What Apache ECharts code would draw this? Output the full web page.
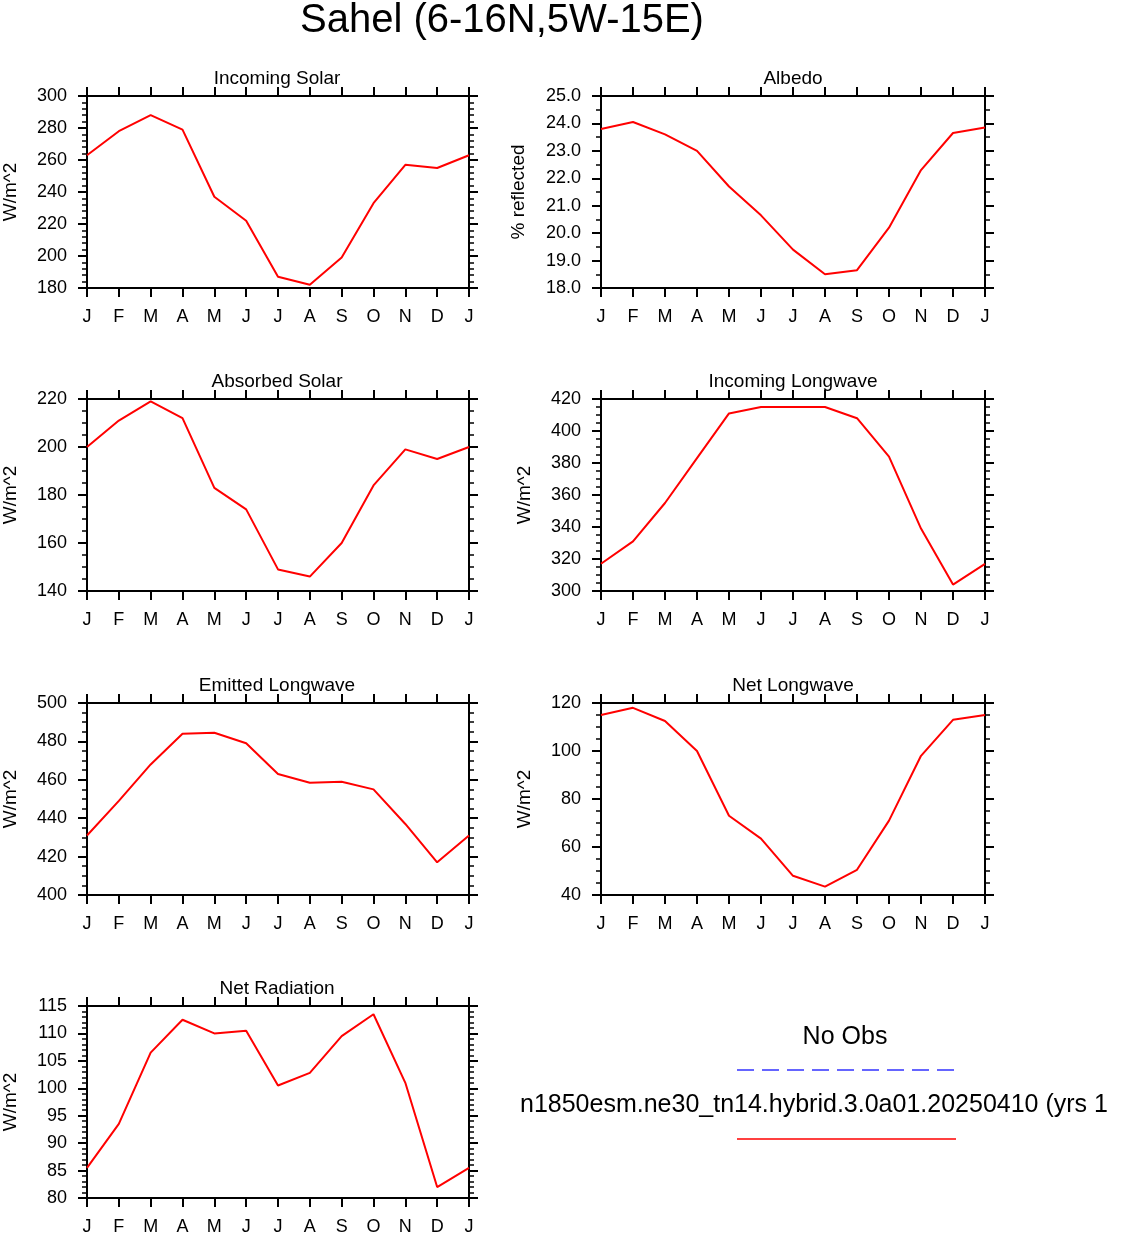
<!DOCTYPE html>
<html><head><meta charset="utf-8">
<script src="https://cdn.jsdelivr.net/npm/echarts@6/dist/echarts.min.js"></script>
<style>html,body{margin:0;padding:0;background:#fff}#c{width:1134px;height:1236px}</style>
</head><body><div id="c"></div>
<script>
const months = ['J','F','M','A','M','J','J','A','S','O','N','D','J'];
const incomingSolar = [263,278,288,279,237,222,187,182,199,233,257,255,263];
const albedo = [23.8,24.05,23.6,23.0,21.7,20.65,19.4,18.5,18.65,20.2,22.3,23.65,23.85];
const absorbedSolar = [200,211,219,212,183,174,149,146,160,184,199,195,200];
const incomingLW = [317,331,355,383,411,415,415,415,408,384,339,304,317];
const emittedLW = [431,449,468,484,484.5,479,463,458.5,459,455,437,417,431];
const netLW = [115,118,112.5,100,73,63.5,48,43.5,50.5,71,98,113,115];
const netRad = [85.5,93.5,106.5,112.5,110,110.5,100.5,102.8,109.5,113.5,101,82,85.5];

const panels = [
 {t:'Incoming Solar', d:incomingSolar, min:180, max:300, iv:20, ms:5, yl:'W/m^2', dec:0, l:85, top:96},
 {t:'Albedo', d:albedo, min:18, max:25, iv:1, ms:2, yl:'% reflected', dec:1, l:601, top:96},
 {t:'Absorbed Solar', d:absorbedSolar, min:140, max:220, iv:20, ms:4, yl:'W/m^2', dec:0, l:85, top:399},
 {t:'Incoming Longwave', d:incomingLW, min:300, max:420, iv:20, ms:4, yl:'W/m^2', dec:0, l:601, top:399},
 {t:'Emitted Longwave', d:emittedLW, min:400, max:500, iv:20, ms:4, yl:'W/m^2', dec:0, l:85, top:703},
 {t:'Net Longwave', d:netLW, min:40, max:120, iv:20, ms:4, yl:'W/m^2', dec:0, l:601, top:703},
 {t:'Net Radiation', d:netRad, min:80, max:115, iv:5, ms:5, yl:'W/m^2', dec:0, l:85, top:1006}
];
const W=384,H=192, F='Liberation Sans, Arial, sans-serif';
const grid=[],xAxis=[],yAxis=[],series=[],title=[{text:'Sahel (6-16N,5W-15E)',left:497,textAlign:'center',top:-4,textStyle:{fontSize:40,fontWeight:'normal',fontFamily:F,color:'#000'}}];
const line={show:true,onZero:false,lineStyle:{color:'#000',width:2}};
panels.forEach((p,i)=>{
  grid.push({left:p.l,top:p.top,width:W,height:H,show:false});
  const bx={type:'value',gridIndex:i,min:0,max:12,interval:1,axisLine:line,splitLine:{show:false},
    axisTick:{show:true,length:9,lineStyle:{color:'#000',width:2}}};
  xAxis.push(Object.assign({},bx,{position:'bottom',axisLabel:{show:true,margin:20,fontSize:18,fontFamily:F,color:'#000',formatter:v=>months[v]}}));
  xAxis.push(Object.assign({},bx,{position:'top',axisLabel:{show:false}}));
  const by={type:'value',gridIndex:i,min:p.min,max:p.max,interval:p.iv,axisLine:line,splitLine:{show:false},
    axisTick:{show:true,length:9,lineStyle:{color:'#000',width:2}},
    minorTick:{show:true,splitNumber:p.ms,length:5,lineStyle:{color:'#000',width:1.5}}};
  yAxis.push(Object.assign({},by,{position:'left',name:p.yl,nameLocation:'middle',nameGap:p.dec?73:67,nameRotate:90,
    nameTextStyle:{fontSize:19,fontFamily:F,color:'#000'},
    axisLabel:{show:true,margin:20,fontSize:18,fontFamily:F,color:'#000',formatter:v=>v.toFixed(p.dec)}}));
  yAxis.push(Object.assign({},by,{position:'right',axisLabel:{show:false}}));
  series.push({type:'line',xAxisIndex:2*i,yAxisIndex:2*i,data:p.d.map((v,k)=>[k,v]),symbol:'none',
    lineStyle:{color:'#ff0000',width:2},silent:true,animation:false});
  title.push({text:p.t,left:p.l+W/2-5,textAlign:'center',top:p.top-32,textStyle:{fontSize:19,fontWeight:'normal',fontFamily:F,color:'#000'}});
});
const chart=echarts.init(document.getElementById('c'));
chart.setOption({animation:false,title,grid,xAxis,yAxis,series,
 graphic:[
  {type:'text',style:{text:'No Obs',x:845,y:1037,fontSize:25,fontFamily:F,fill:'#000',align:'center',verticalAlign:'middle'}},
  {type:'line',shape:{x1:737,y1:1070,x2:956,y2:1070},style:{stroke:'#3333ff',lineWidth:1.5,lineDash:[17,8]}},
  {type:'text',style:{text:'n1850esm.ne30_tn14.hybrid.3.0a01.20250410 (yrs 1',x:520,y:1105,fontSize:25,fontFamily:F,fill:'#000',align:'left',verticalAlign:'middle'}},
  {type:'line',shape:{x1:737,y1:1139,x2:956,y2:1139},style:{stroke:'#ff0000',lineWidth:1.5}}
 ]});
</script></body></html>
